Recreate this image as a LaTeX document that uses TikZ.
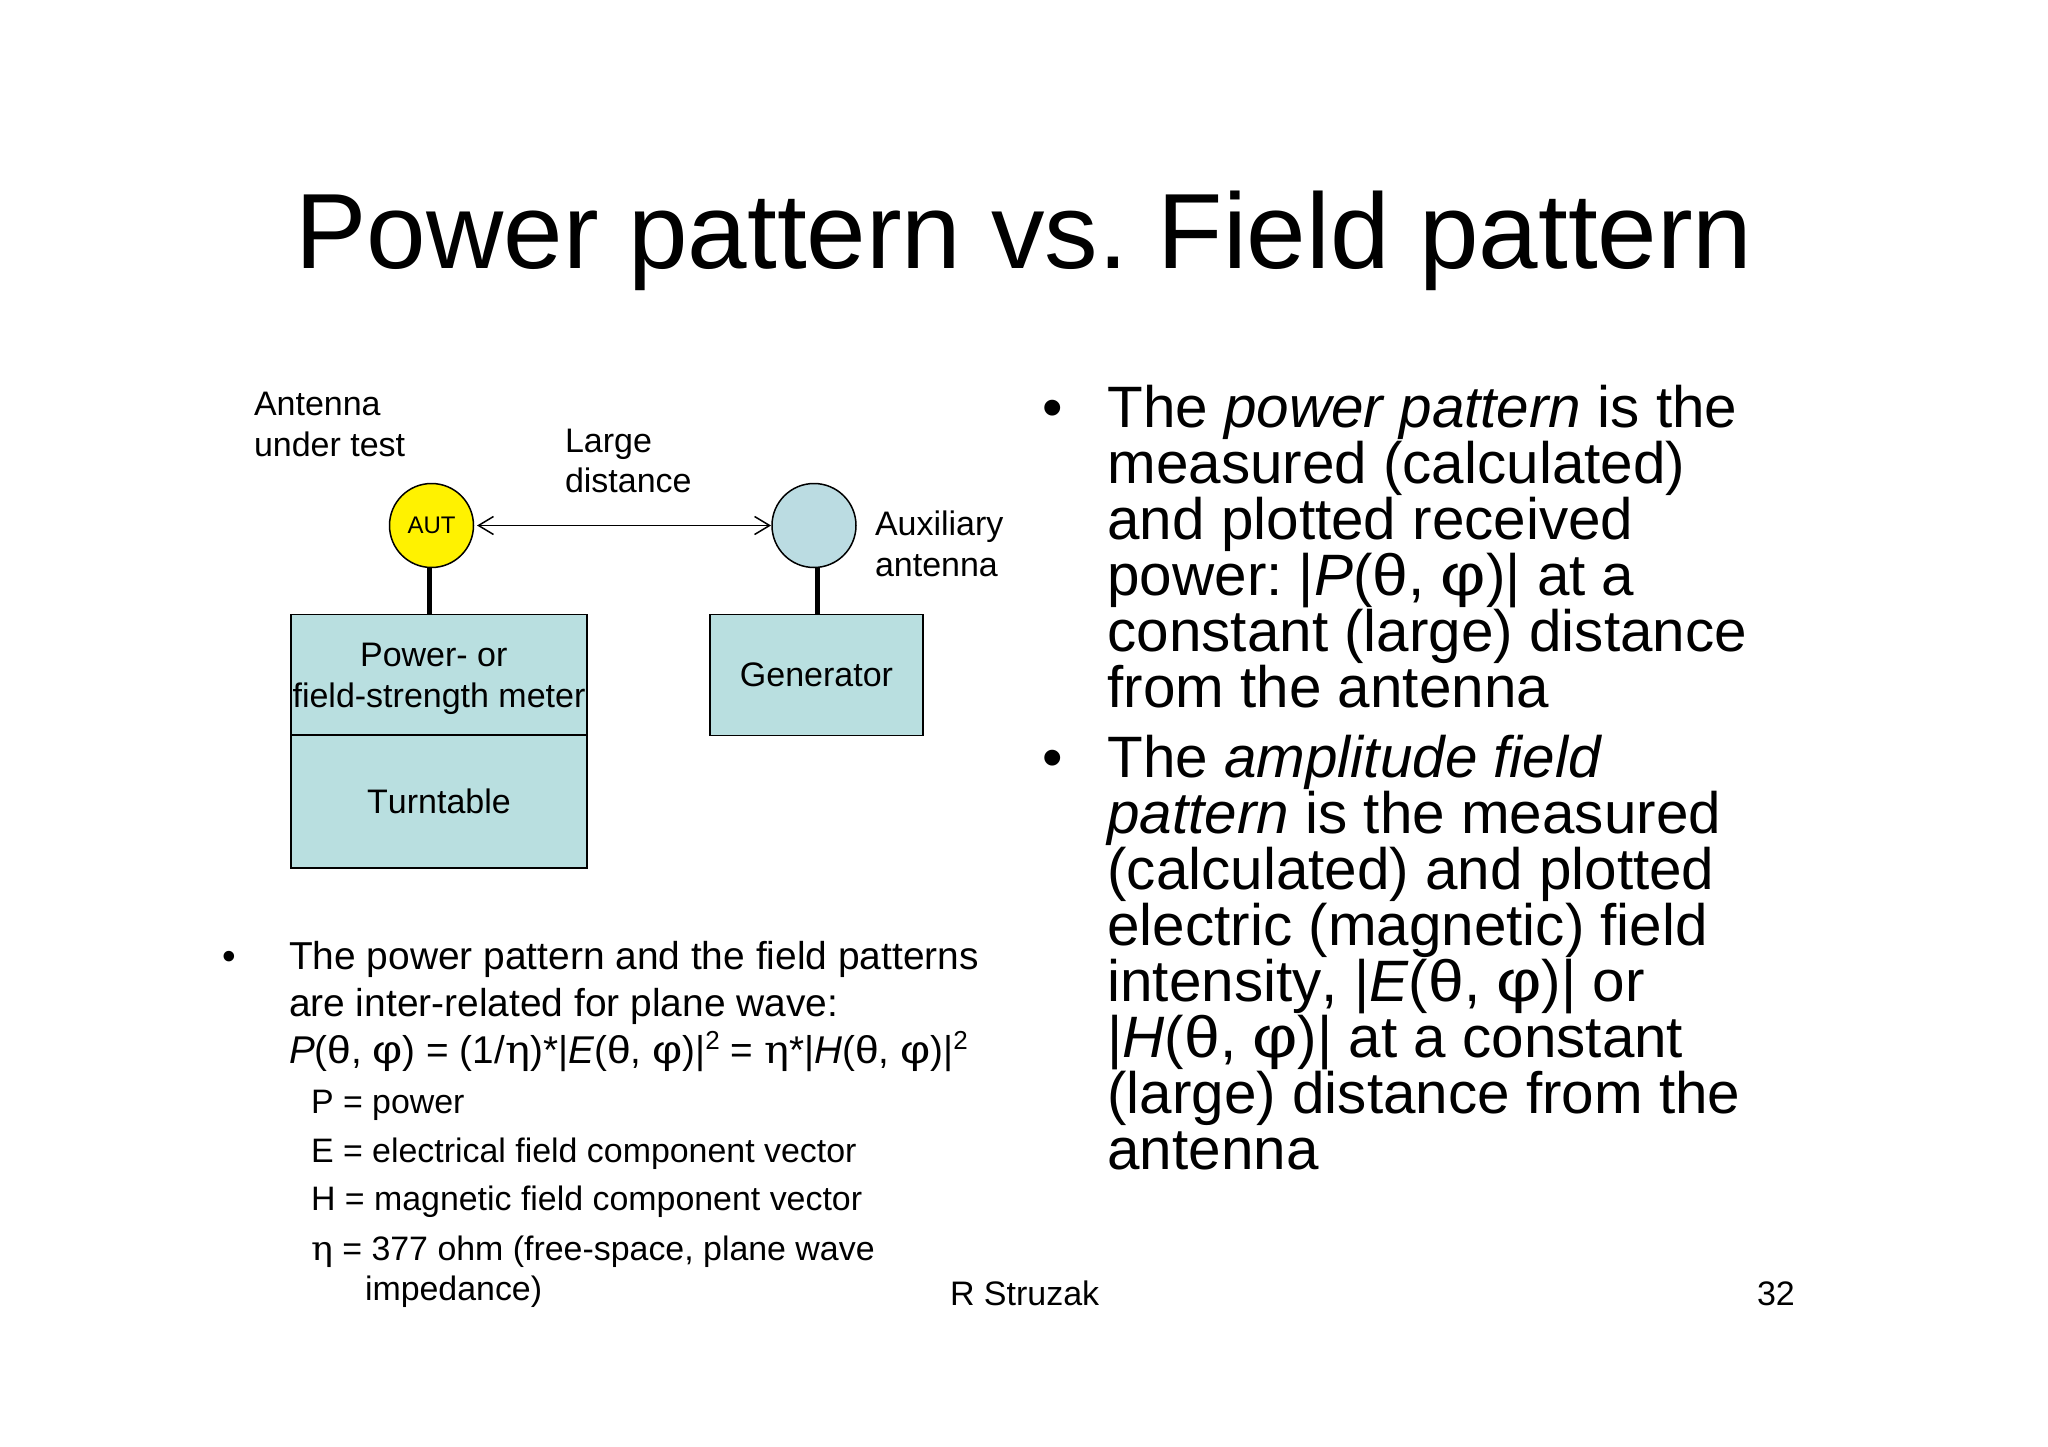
\documentclass[tikz,border=0pt]{standalone}
\usepackage{fontspec}
\usepackage{graphicx}
\setmainfont[Kerning=Off]{Liberation Sans}
\newfontfamily\grketa{DejaVu Serif}
\usetikzlibrary{arrows.meta}
\definecolor{boxfill}{HTML}{B9DFE0}
\definecolor{auxfill}{HTML}{BBDCE2}
\newcommand{\thetaG}{\scalebox{1.1}[1]{θ}}
\newcommand{\phiG}{\scalebox{1.2}[1]{φ}}
\newcommand{\etaG}{\scalebox{1.08}[1]{\grketa η}}
\newcommand{\supTwo}{\raisebox{0.36em}{\fontsize{26}{26}\selectfont 2}}
\tikzset{
  every node/.style={inner sep=0pt, outer sep=0pt, text=black},
  titletext/.style={anchor=base west, font=\fontsize{107}{107}\selectfont},
  bigtext/.style={anchor=base west, align=left, font=\fontsize{58.4}{56}\selectfont},
  midtext/.style={anchor=base west, align=left, font=\fontsize{38.9}{47}\selectfont},
  formulatext/.style={anchor=base west, font=\fontsize{38.7}{47}\selectfont},
  smalltext/.style={anchor=base west, align=left, font=\fontsize{33.9}{40.5}\selectfont},
  labeltext/.style={anchor=base west, align=left, font=\fontsize{34}{40.5}\selectfont},
  boxnode/.style={draw=black, line width=1.5pt, fill=boxfill, rectangle, align=center, font=\fontsize{34}{41}\selectfont},
  antnode/.style={draw=black, line width=1.5pt, circle, minimum size=84pt, font=\fontsize{24}{24}\selectfont},
  stem/.style={line width=5.5pt},
  distarrow/.style={line width=1.5pt, {Straight Barb[length=15pt,width=18pt,line width=1.5pt]}-{Straight Barb[length=15pt,width=18pt,line width=1.5pt]}}
}
\begin{document}
\frenchspacing
\begin{tikzpicture}[x=1pt,y=-1pt]
\useasboundingbox[fill=white] (0,0) rectangle (2048,1447);
\node[titletext] (title) at (295.5,269) {Power pattern vs. Field pattern};

% diagram
\node[labeltext] (aut-label) at (254,415.3) {Antenna};
\node[labeltext] (aut-label2) at (254,456.3) {under test};
\node[labeltext] (dist-label) at (565,452.3) {Large};
\node[labeltext] (dist-label2) at (565,492.3) {distance};
\node[labeltext] (aux-label) at (875,535.3) {Auxiliary};
\node[labeltext] (aux-label2) at (875,576.3) {antenna};

\node[antnode, fill=yellow] (aut) at (431.5,525.5) {AUT};
\node[antnode, fill=auxfill] (aux) at (814,525.5) {};
\node[boxnode, minimum width=296pt, minimum height=121pt] (meter) at (439,674.8) {\rule{0pt}{31.4pt}Power- or\hspace*{10.4pt}\\field-strength meter};
\node[boxnode, minimum width=296pt, minimum height=133pt] (turn) at (439,801.3) {Turntable};
\node[boxnode, minimum width=213pt, minimum height=121pt] (gen) at (816.5,674.8) {Generator};

\draw[stem] (aut.267) -- (aut.267 |- meter.north);
\draw[stem] (aux.275) -- (aux.275 |- gen.north);
\draw[distarrow, shorten <=3.5pt, shorten >=1pt] (aut.east) -- (aux.west);

% lower left
\node[midtext] (lb) at (222,969.3) {•};
\node[midtext] (l1) at (289,969.3) {The power pattern and the field patterns};
\node[midtext] (l2) at (289,1016.3) {are inter-related for plane wave:};
\node[formulatext] (l3) at (289,1063.3) {\textit{P}(\thetaG, \phiG) = (1/\etaG)*|\textit{E}(\thetaG, \phiG)|\supTwo{} = \etaG*|\textit{H}(\thetaG, \phiG)|\supTwo};
\node[smalltext] (s1) at (311,1113.3) {P = power};
\node[smalltext] (s2) at (311,1162) {E = electrical field component vector};
\node[smalltext] (s3) at (311,1210.5) {H = magnetic field component vector};
\node[smalltext] (s4) at (311,1260) {\etaG{} = 377 ohm (free-space, plane wave};
\node[smalltext] (s5) at (365,1300.5) {impedance)};
\node[labeltext] (footer) at (950,1305.5) {R Struzak};
\node[labeltext] (pageno) at (1757,1305.5) {32};

% right column
\node[bigtext] (rb1) at (1042,427.5) {•};
\node[bigtext] (r1) at (1107.5,427.5) {The \textit{power pattern} is the};
\node[bigtext] (r2) at (1107.5,483.5) {measured (calculated)};
\node[bigtext] (r3) at (1107.5,539.5) {and plotted received};
\node[bigtext] (r4) at (1107.5,595.5) {power: |\textit{P}(\thetaG, \phiG)| at a};
\node[bigtext] (r5) at (1107.5,651.5) {constant (large) distance};
\node[bigtext] (r6) at (1107.5,707.5) {from the antenna};
\node[bigtext] (rb2) at (1042,777.5) {•};
\node[bigtext] (r7) at (1107.5,777.5) {The \textit{amplitude field}};
\node[bigtext] (r8) at (1107.5,833.5) {\textit{pattern} is the measured};
\node[bigtext] (r9) at (1107.5,889.5) {(calculated) and plotted};
\node[bigtext] (r10) at (1107.5,945.5) {electric (magnetic) field};
\node[bigtext] (r11) at (1107.5,1001.5) {intensity, |\textit{E}(\thetaG, \phiG)| or};
\node[bigtext] (r12) at (1107.5,1057.5) {|\textit{H}(\thetaG, \phiG)| at a constant};
\node[bigtext] (r13) at (1107.5,1113.5) {(large) distance from the};
\node[bigtext] (r14) at (1107.5,1169.5) {antenna};
\end{tikzpicture}
\end{document}
